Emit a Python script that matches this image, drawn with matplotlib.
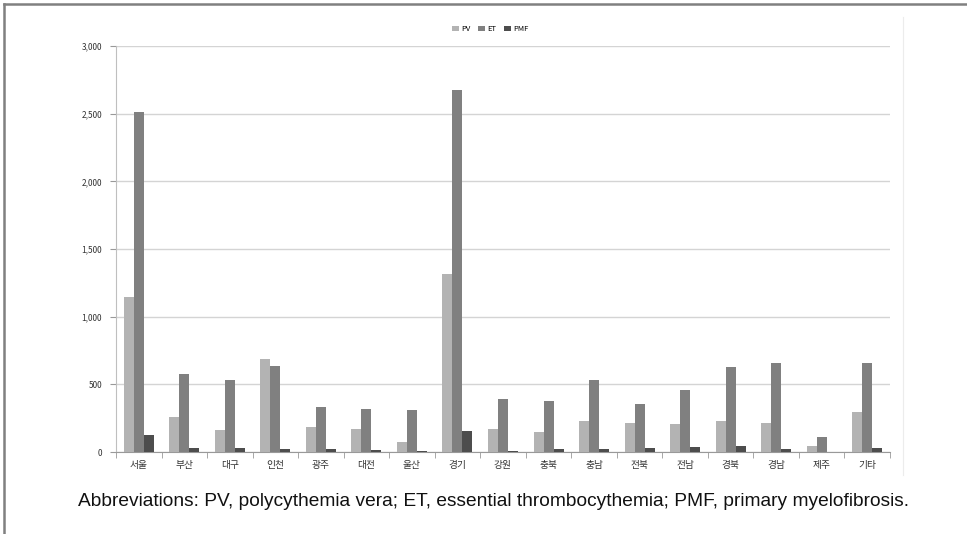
import matplotlib
matplotlib.use("Agg")
import matplotlib.pyplot as plt
import numpy as np
from matplotlib.lines import Line2D
from matplotlib.ticker import FuncFormatter, FixedLocator

plt.rcParams['font.family'] = ['Noto Sans CJK KR', 'DejaVu Sans']

regions = ["서울", "부산", "대구", "인천", "광주", "대전", "울산", "경기", "강원",
           "충북", "충남", "전북", "전남", "경북", "경남", "제주", "기타"]
pv = [1145, 261, 163, 685, 185, 168, 74, 1315, 172, 150, 227, 217, 207, 229, 217, 42, 296]
et = [2510, 574, 532, 638, 335, 320, 310, 2675, 389, 379, 532, 357, 456, 628, 655, 108, 660]
pmf = [125, 27, 27, 22, 22, 12, 7, 153, 10, 22, 22, 27, 37, 47, 22, 2, 27]
series_names = ["PV", "ET", "PMF"]
colors = ["#b3b3b3", "#808080", "#4d4d4d"]
yticks = [0, 500, 1000, 1500, 2000, 2500, 3000]

fig = plt.figure(figsize=(9.67, 5.34), dpi=100)
ax = fig.add_axes([116/967, 1-452/534, (890-116)/967, (452-46)/534])

x = np.arange(len(regions))
w = 0.22
for i, (vals, name, c) in enumerate(zip([pv, et, pmf], series_names, colors)):
    ax.bar(x + (i-1)*w, vals, width=w, color=c, label=name, zorder=3)

ax.set_xlim(-0.5, len(regions)-0.5)
ax.set_ylim(0, 3000)
ax.set_yticks(yticks)
ax.yaxis.set_major_formatter(FuncFormatter(lambda v, p: f"{int(v):,}"))
ax.grid(axis='y', color='#d4d4d4', linewidth=1.0, zorder=0)
ax.set_xticks(x)
ax.set_xticklabels(regions, fontsize=7, color='#333333')
ax.xaxis.set_minor_locator(FixedLocator(np.arange(-0.5, len(regions), 1.0)))
ax.tick_params(axis='x', which='major', length=0, pad=6)
ax.tick_params(axis='x', which='minor', length=4, color='#999999', direction='out')
ax.tick_params(axis='y', length=4, color='#999999', labelsize=6, labelcolor='#333333', pad=6)
for s in ['top', 'right']:
    ax.spines[s].set_visible(False)
ax.spines['left'].set_color('#bfbfbf')
ax.spines['bottom'].set_color('#999999')

leg = fig.legend(loc='center', bbox_to_anchor=(490/967, 1-29/534), ncol=3, frameon=False,
                 fontsize=5.5, handlelength=0.9, handleheight=0.7, handletextpad=0.3,
                 columnspacing=1.0)

fig.text(494/967, 1-502/534, "Abbreviations: PV, polycythemia vera; ET, essential thrombocythemia; PMF, primary myelofibrosis.",
         ha='center', va='center', fontsize=13.8, color='#111111', family=['Liberation Sans', 'DejaVu Sans'])

# frame lines
fig.add_artist(Line2D([3.5/967, 3.5/967], [0, 1-3.5/534], color='#808080', linewidth=1.8, transform=fig.transFigure))
fig.add_artist(Line2D([3.5/967, 1], [1-3.5/534, 1-3.5/534], color='#808080', linewidth=1.8, transform=fig.transFigure))
fig.add_artist(Line2D([903/967, 903/967], [1-475/534, 1-17/534], color='#ececec', linewidth=0.8, transform=fig.transFigure))

fig.savefig("out.png", dpi=100)
